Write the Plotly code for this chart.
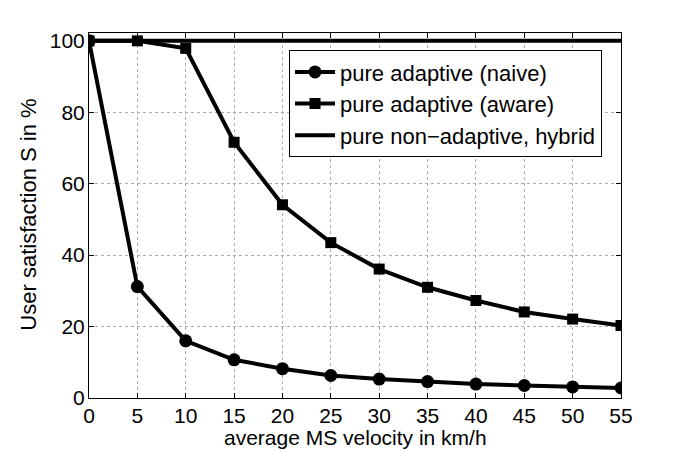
import plotly.graph_objects as go

velocity = [0, 5, 10, 15, 20, 25, 30, 35, 40, 45, 50, 55]
naive = [100, 31.2, 16.0, 10.7, 8.2, 6.3, 5.3, 4.6, 3.9, 3.5, 3.1, 2.8]
aware = [100, 100, 97.9, 71.6, 54.1, 43.5, 36.1, 31.0, 27.3, 24.1, 22.1, 20.3]
hybrid = [100] * len(velocity)
xticks = [0, 5, 10, 15, 20, 25, 30, 35, 40, 45, 50, 55]
yticks = [0, 20, 40, 60, 80, 100]

FONT = "Liberation Sans, Arial, Helvetica, sans-serif"
FS = 21

fig = go.Figure()
fig.add_trace(go.Scatter(x=velocity, y=naive, mode="lines+markers",
                         name="pure adaptive (naive)",
                         line=dict(color="black", width=4),
                         marker=dict(symbol="circle", size=13, color="black")))
fig.add_trace(go.Scatter(x=velocity, y=aware, mode="lines+markers",
                         name="pure adaptive (aware)",
                         line=dict(color="black", width=4),
                         marker=dict(symbol="square", size=11, color="black")))
fig.add_trace(go.Scatter(x=velocity, y=hybrid, mode="lines",
                         name="pure non\u2212adaptive, hybrid",
                         line=dict(color="black", width=4)))

axis_common = dict(
    showline=True, linecolor="black", linewidth=1, mirror="ticks",
    ticks="inside", ticklen=5, tickcolor="black",
    showgrid=True, gridcolor="#aaaaaa", griddash="dot", gridwidth=1,
    zeroline=False,
    tickfont=dict(family=FONT, size=FS, color="black"),
)

fig.update_xaxes(range=[0, 55], tickvals=xticks, ticktext=[str(t) for t in xticks],
                 ticklabelstandoff=-1, **axis_common)
fig.update_yaxes(range=[0, 102.2], tickvals=yticks, ticktext=[str(t) for t in yticks],
                 ticklabelstandoff=-1, **axis_common)

fig.update_layout(
    width=685, height=452,
    margin=dict(l=89, r=64, t=33, b=54),
    plot_bgcolor="white", paper_bgcolor="white",
    showlegend=True,
    legend=dict(x=0.376, y=0.953, xanchor="left", yanchor="top",
                bgcolor="white", bordercolor="black", borderwidth=1,
                font=dict(family=FONT, size=22, color="black"),
                tracegroupgap=0, itemwidth=40),
    annotations=[
        dict(text="average MS velocity in km/h", xref="paper", yref="paper",
             x=0.5, y=-0.107, xanchor="center", yanchor="middle", showarrow=False,
             font=dict(family=FONT, size=FS, color="black")),
        dict(text="User satisfaction S in %", xref="paper", yref="paper",
             x=-0.1137, y=0.501, xanchor="center", yanchor="middle", showarrow=False,
             textangle=-90, font=dict(family=FONT, size=22, color="black")),
    ],
)

fig.write_html("out.html", config={"displayModeBar": False},
               post_script="document.body.style.margin='0';document.body.style.overflow='hidden';")
